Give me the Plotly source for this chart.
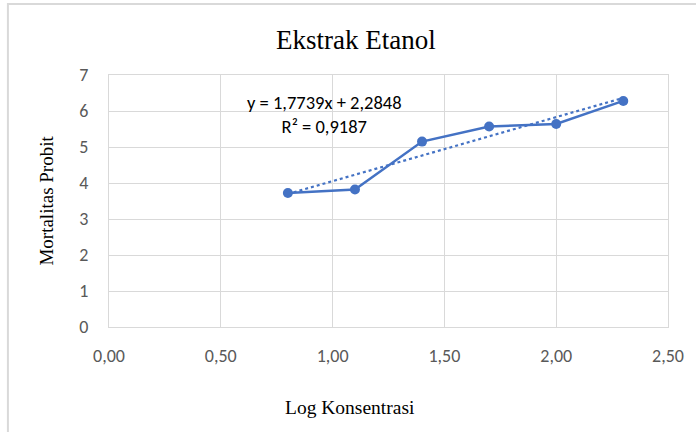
import numpy as np
import plotly.graph_objects as go

log_konsentrasi = [0.80, 1.10, 1.40, 1.70, 2.00, 2.30]
mortalitas_probit = [3.72, 3.82, 5.15, 5.57, 5.64, 6.28]
x_ticks = [0.0, 0.5, 1.0, 1.5, 2.0, 2.5]
x_tick_labels = ["0,00", "0,50", "1,00", "1,50", "2,00", "2,50"]
y_ticks = [0, 1, 2, 3, 4, 5, 6, 7]
title_text = "Ekstrak Etanol"
x_title = "Log Konsentrasi"
y_title = "Mortalitas Probit"
eq_text = "y = 1,7739x + 2,2848<br>R² = 0,9187"

slope, intercept = np.polyfit(log_konsentrasi, mortalitas_probit, 1)
trend_x = [min(log_konsentrasi), max(log_konsentrasi)]
trend_y = [slope * v + intercept for v in trend_x]

blue = "#4472C4"
grid = "#D9D9D9"
sans = "Carlito, Calibri, 'Open Sans', sans-serif"
tickfont = dict(family=sans, size=18, color="#595959")
serif = "'Liberation Serif', 'Times New Roman', serif"

L, R, T, B = 109, 673, 75, 327
PW, PH = R - L, B - T

fig = go.Figure()
fig.add_trace(go.Scatter(x=trend_x, y=trend_y, mode="lines",
                         line=dict(color=blue, width=2.2, dash="dot"),
                         hoverinfo="skip", showlegend=False))
fig.add_trace(go.Scatter(x=log_konsentrasi, y=mortalitas_probit, mode="lines+markers",
                         line=dict(color=blue, width=2.5),
                         marker=dict(color=blue, size=10),
                         showlegend=False))

fig.update_layout(
    width=696, height=432,
    margin=dict(l=L, r=696 - R, t=T, b=432 - B),
    paper_bgcolor="white", plot_bgcolor="white",
    showlegend=False,
    xaxis=dict(range=[0, 2.5], tickvals=x_ticks, ticktext=x_tick_labels,
               showgrid=True, gridcolor=grid, gridwidth=1,
               zeroline=False, showline=True, linecolor=grid, linewidth=1, mirror=True,
               tickfont=tickfont, ticks="", ticklabelstandoff=12, fixedrange=True),
    yaxis=dict(range=[0, 7], tickvals=y_ticks,
               showgrid=True, gridcolor=grid, gridwidth=1,
               zeroline=False, showline=True, linecolor=grid, linewidth=1, mirror=True,
               tickfont=tickfont, ticks="", ticklabelstandoff=16, fixedrange=True),
    annotations=[
        dict(text=title_text, xref="paper", yref="paper", x=(358 - L) / PW, y=1 + (T - 40) / PH,
             showarrow=False, font=dict(family=serif, size=27, color="#000000"),
             xanchor="center", yanchor="middle"),
        dict(text=x_title, xref="paper", yref="paper", x=(352 - L) / PW, y=-(407 - B) / PH,
             showarrow=False, font=dict(family=serif, size=19.5, color="#000000"),
             xanchor="center", yanchor="middle"),
        dict(text=y_title, xref="paper", yref="paper", x=-(L - 45) / PW, y=(B - 201) / PH,
             showarrow=False, textangle=-90, font=dict(family=serif, size=19, color="#000000"),
             xanchor="center", yanchor="middle"),
        dict(text=eq_text, xref="x", yref="y", x=0.962, y=5.89,
             showarrow=False, align="center",
             font=dict(family=sans, size=18.5, color="#000000"),
             xanchor="center", yanchor="middle"),
    ],
    shapes=[
        dict(type="rect", xref="paper", yref="paper",
             x0=-(L - 7) / PW, x1=1 + 60 / PW, y0=-200 / PH, y1=1 + (T - 4) / PH,
             line=dict(color="#D9D9D9", width=2), fillcolor="rgba(0,0,0,0)", layer="below"),
    ],
)

fig.write_html("out.html", config={"displayModeBar": False, "staticPlot": True},
               post_script="document.body.style.margin='0';")
